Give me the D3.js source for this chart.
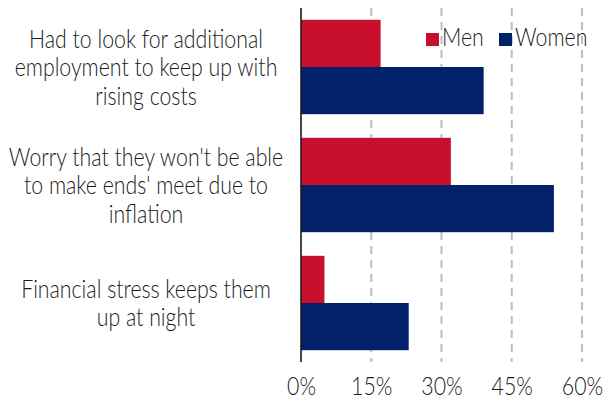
<!DOCTYPE html>
<html><head><meta charset="utf-8">
<script src="https://cdn.jsdelivr.net/npm/d3@7"></script>
<style>
html,body{margin:0;padding:0;background:#fff;}
svg{display:block;}
text{font-family:"Lato",sans-serif;font-weight:300;fill:#1a1a1a;}
</style></head>
<body>
<svg id="chart" width="604" height="402"></svg>
<script>
const categories = [
  "Had to look for additional\nemployment to keep up with\nrising costs",
  "Worry that they won't be able\nto make ends' meet due to\ninflation",
  "Financial stress keeps them\nup at night"
];
const seriesNames = ["Men", "Women"];
const menValues = [17, 32, 5];
const womenValues = [39, 54, 23];
const tickValues = [0, 15, 30, 45, 60];
const colors = ["#C8102E", "#012169"];

const FS = 26;
const svg = d3.select("#chart");
const x = d3.scaleLinear().domain([0, 60]).range([301, 582]);
const y = d3.scaleBand().domain(d3.range(categories.length)).range([8, 362]).paddingInner(0.2).paddingOuter(0.1);
const ys = d3.scaleBand().domain(seriesNames).range([0, y.bandwidth()]);

// horizontal condensation factor so the font matches the reference's narrow face
const probe = svg.append("text").attr("font-size", FS).text("Had to look for additional");
const sx = 234 / probe.node().getComputedTextLength();
probe.remove();

// gridlines
svg.append("g").selectAll("line").data(tickValues.filter(d => d > 0)).join("line")
  .attr("x1", d => x(d)).attr("x2", d => x(d))
  .attr("y1", 8).attr("y2", 362)
  .attr("stroke", "#bdbdbd").attr("stroke-width", 2).attr("stroke-dasharray", "8,6");

// bars
const series = [menValues, womenValues];
seriesNames.forEach((name, si) => {
  svg.append("g").selectAll("rect").data(series[si]).join("rect")
    .attr("x", x(0))
    .attr("y", (d, i) => y(i) + ys(name))
    .attr("width", d => x(d) - x(0))
    .attr("height", ys.bandwidth())
    .attr("fill", colors[si]);
});

// axis line
svg.append("line").attr("x1", x(0)).attr("x2", x(0)).attr("y1", 8).attr("y2", 362)
  .attr("stroke", "#1a1a1a").attr("stroke-width", 1.6);

// x tick labels
const xAxis = d3.axisBottom(x).tickValues(tickValues).tickFormat(d => d + "%").tickSize(0).tickPadding(0);
const ax = svg.append("g").attr("transform", "translate(0,377)").call(xAxis);
ax.select(".domain").remove();
ax.selectAll("text").attr("font-size", FS).attr("font-family", null).attr("fill", null)
  .attr("dy", "0.71em").attr("transform", `scale(${sx},1)`);

// category labels
const lh = 28.5;
const cx = 146;
categories.forEach((c, i) => {
  const lines = c.split("\n");
  const cy = y(i) + y.bandwidth() / 2;
  const t = svg.append("text").attr("text-anchor", "middle").attr("font-size", FS)
    .attr("transform", `translate(${cx},0) scale(${sx},1)`)
    .attr("x", 0).attr("y", cy - (lines.length - 1) * lh / 2);
  lines.forEach((l, k) => {
    t.append("tspan").attr("x", 0).attr("dy", k === 0 ? "0.35em" : lh).text(l);
  });
});

// legend
const legendX = [426, 499];
seriesNames.forEach((name, si) => {
  svg.append("rect").attr("x", legendX[si]).attr("y", 33).attr("width", 13).attr("height", 13).attr("fill", colors[si]);
  svg.append("text").attr("transform", `translate(${legendX[si] + 16},46) scale(${sx},1)`)
    .attr("font-size", FS).text(name);
});
</script>
</body></html>
